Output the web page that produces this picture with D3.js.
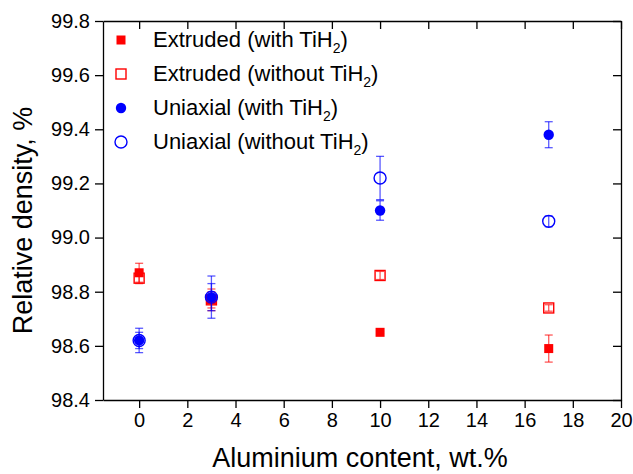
<!DOCTYPE html>
<html>
<head>
<meta charset="utf-8">
<script src="https://cdn.jsdelivr.net/npm/d3@7"></script>
<style>
  body { margin: 0; background: #fff; }
  svg { display: block; font-family: "Liberation Sans", Arial, sans-serif; }
  .axis path, .axis line { stroke: #000; stroke-width: 1.3; }
  .axis text { fill: #000; }
</style>
</head>
<body>
<div id="chart"></div>
<script>
// aluminium content, wt.%
const aluminium = [0, 3, 10, 17]

const extrudedWith = [98.87, 98.77, 98.65, 98.59]
const extrudedWithErr = [0.035, 0.04, 0.004, 0.05]
const extrudedWithout = [98.85, 98.77, 98.86, 98.74]
const extrudedWithoutErr = [0.02, 0.03, 0.015, 0.012]
const uniaxialWith = [98.62, 98.78, 99.10, 99.38]
const uniaxialWithErr = [0.045, 0.078, 0.036, 0.048]
const uniaxialWithout = [98.62, 98.78, 99.22, 99.06]
const uniaxialWithoutErr = [0.03, 0.05, 0.08, 0.02]

const xMajor = [0, 2, 4, 6, 8, 10, 12, 14, 16, 18, 20]
const xMinor = [-1, 1, 3, 5, 7, 9, 11, 13, 15, 17, 19]
const yMajor = [98.4, 98.6, 98.8, 99.0, 99.2, 99.4, 99.6, 99.8]
const yMinor = [98.5, 98.7, 98.9, 99.1, 99.3, 99.5, 99.7]

const series = [
  { name: 'Extruded (with ', values: extrudedWith, err: extrudedWithErr, shape: 'square', filled: true, color: '#ff0000' },
  { name: 'Extruded (without ', values: extrudedWithout, err: extrudedWithoutErr, shape: 'square', filled: false, color: '#ff0000' },
  { name: 'Uniaxial (with ', values: uniaxialWith, err: uniaxialWithErr, shape: 'circle', filled: true, color: '#0000ff' },
  { name: 'Uniaxial (without ', values: uniaxialWithout, err: uniaxialWithoutErr, shape: 'circle', filled: false, color: '#0000ff' }
]

const width = 633
const height = 474
const margin = { top: 21, right: 12, bottom: 74, left: 103 }
const innerW = width - margin.left - margin.right
const innerH = height - margin.top - margin.bottom

const svg = d3.select('#chart').append('svg').attr('width', width).attr('height', height)
const g = svg.append('g').attr('transform', `translate(${margin.left},${margin.top})`)

const x = d3.scaleLinear().domain([-1.5, 20]).range([0, innerW])
const y = d3.scaleLinear().domain([98.4, 99.8]).range([innerH, 0])

function drawAxis (axisFn, scale, major, minor, size, transform, fmt, showLabels) {
  const a = g.append('g').attr('class', 'axis').attr('transform', transform)
  a.call(axisFn(scale).tickValues(minor).tickSize(size / 2).tickFormat(''))
  a.call(axisFn(scale).tickValues(major).tickSize(size).tickPadding(5).tickSizeOuter(0)
    .tickFormat(showLabels ? fmt : ''))
  return a
}

const xb = drawAxis(d3.axisBottom, x, xMajor, xMinor, 8, `translate(0,${innerH})`, d3.format('d'), true)
xb.selectAll('text').attr('font-size', '20px')
drawAxis(d3.axisTop, x, xMajor, xMinor, -8, 'translate(0,0)', d3.format('d'), false)
const yl = drawAxis(d3.axisLeft, y, yMajor, yMinor, 8, 'translate(0,0)', d3.format('.1f'), true)
yl.selectAll('text').attr('font-size', '20px')
drawAxis(d3.axisRight, y, yMajor, yMinor, -8, `translate(${innerW},0)`, d3.format('.1f'), false)

// axis titles
svg.append('text')
  .attr('x', margin.left + innerW / 2 - 2)
  .attr('y', 467)
  .attr('text-anchor', 'middle')
  .attr('font-size', '27px')
  .text('Aluminium content, wt.%')

svg.append('text')
  .attr('transform', `translate(32,${margin.top + innerH / 2 + 10}) rotate(-90)`)
  .attr('text-anchor', 'middle')
  .attr('font-size', '27px')
  .text('Relative density, %')

function drawMarker (sel, s, cx, cy, legend) {
  if (s.shape === 'square') {
    const side = s.filled ? 9 : 10
    sel.append('rect')
      .attr('x', cx - side / 2).attr('y', cy - side / 2)
      .attr('width', side).attr('height', side)
      .attr('fill', s.filled ? s.color : 'none')
      .attr('stroke', s.color)
      .attr('stroke-width', s.filled ? 0 : 1.4)
  } else {
    sel.append('circle')
      .attr('cx', cx).attr('cy', cy)
      .attr('r', s.filled ? 5.2 : 6)
      .attr('fill', s.filled ? s.color : (legend ? '#fff' : 'none'))
      .attr('stroke', s.color)
      .attr('stroke-width', s.filled ? 0 : 1.4)
  }
}

// error bars + markers
series.forEach((s) => {
  const sg = g.append('g')
  aluminium.forEach((a, i) => {
    const cx = x(a)
    const top = y(s.values[i] + s.err[i])
    const bot = y(s.values[i] - s.err[i])
    const eb = sg.append('g').attr('stroke', s.color).attr('stroke-opacity', 0.65).attr('stroke-width', 1.3)
    eb.append('line').attr('x1', cx).attr('x2', cx).attr('y1', top).attr('y2', bot)
    eb.append('line').attr('x1', cx - 4).attr('x2', cx + 4).attr('y1', top).attr('y2', top)
    eb.append('line').attr('x1', cx - 4).attr('x2', cx + 4).attr('y1', bot).attr('y2', bot)
    drawMarker(sg, s, cx, y(s.values[i]), false)
  })
})

// legend
const legend = svg.append('g')
series.forEach((s, i) => {
  const cy = 40 + i * 34
  drawMarker(legend, s, 121, cy, true)
  const t = legend.append('text')
    .attr('x', 153).attr('y', cy + 7)
    .attr('font-size', '22px')
  t.append('tspan').text(s.name + 'TiH')
  t.append('tspan').attr('font-size', '14px').attr('dy', 6).text('2')
  t.append('tspan').attr('dy', -6).text(')')
})
</script>
</body>
</html>
